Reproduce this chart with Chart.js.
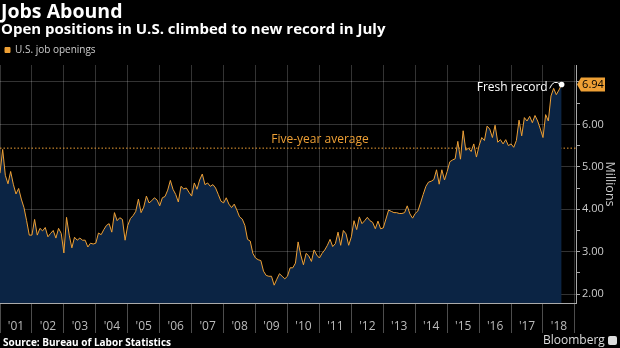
<!DOCTYPE html>
<html>
<head>
<meta charset="utf-8">
<script src="https://cdn.jsdelivr.net/npm/chart.js@4.4.1/dist/chart.umd.min.js"></script>
<style>
  html, body { margin: 0; padding: 0; background: #000; }
  #wrap { position: relative; width: 620px; height: 348px; overflow: hidden; font-family: "Open Sans", sans-serif; }
  #c { position: absolute; left: 0; top: 0; }
  .txt { position: absolute; white-space: nowrap; line-height: 1; }
  #title { left: 1px; top: 1px; font-size: 19.5px; font-weight: 700; color: #fff; }
  #subtitle { left: 1px; top: 21px; font-size: 15px; font-weight: 700; color: #fff; }
  #source { left: 3px; top: 337px; font-size: 10px; font-weight: 700; color: #fff; }
  #brand { left: 543px; top: 334px; font-size: 12px; color: #ddd; }
  #brand span { display: inline-block; width: 9px; height: 9px; margin-left: 3px; background: #ddd; border-radius: 2px; vertical-align: -1px; }
</style>
</head>
<body>
<div id="wrap">
  <canvas id="c" width="620" height="348"></canvas>
  <div class="txt" id="title">Jobs Abound</div>
  <div class="txt" id="subtitle">Open positions in U.S. climbed to new record in July</div>
  <div class="txt" id="source">Source: Bureau of Labor Statistics</div>
  <div class="txt" id="brand">Bloomberg<span></span></div>
</div>
<script>
// monthly U.S. job openings, millions, Dec 2000 .. Jul 2018
var openings = [
    4.85,
    5.41, 4.80, 4.60, 4.89, 4.59, 4.36, 4.49, 4.24, 4.04, 3.73, 3.39, 3.39,
    3.76, 3.39, 3.55, 3.49, 3.57, 3.35, 3.43, 3.50, 3.32, 3.55, 3.43, 2.97,
    3.81, 3.39, 3.09, 3.34, 3.27, 3.32, 3.27, 3.27, 3.11, 3.20, 3.18, 3.20,
    3.44, 3.40, 3.52, 3.62, 3.66, 3.46, 3.92, 3.73, 3.80, 3.76, 3.27, 3.62,
    3.78, 3.85, 3.95, 4.24, 3.92, 4.05, 4.31, 4.15, 4.20, 4.27, 4.22, 4.08,
    4.27, 4.30, 4.45, 4.68, 4.47, 4.35, 4.17, 4.54, 4.48, 4.50, 4.40, 4.31,
    4.62, 4.47, 4.69, 4.83, 4.58, 4.62, 4.54, 4.58, 4.50, 4.35, 4.19, 4.15,
    4.27, 4.12, 4.04, 4.12, 3.98, 3.82, 3.77, 3.62, 3.29, 3.25, 2.96, 2.85,
    2.81, 2.79, 2.54, 2.44, 2.42, 2.42, 2.21, 2.35, 2.48, 2.42, 2.36, 2.42,
    2.62, 2.62, 2.73, 3.23, 2.92, 2.69, 2.96, 2.90, 2.77, 3.04, 2.92, 2.85,
    2.96, 3.04, 3.15, 3.29, 3.12, 3.19, 3.46, 3.15, 3.50, 3.42, 3.15, 3.35,
    3.73, 3.52, 3.82, 3.66, 3.73, 3.81, 3.73, 3.69, 3.54, 3.72, 3.54, 3.56,
    3.77, 3.98, 3.95, 3.92, 3.92, 3.90, 3.90, 3.92, 4.08, 3.89, 3.79, 3.90,
    3.96, 4.15, 4.35, 4.54, 4.64, 4.66, 4.70, 4.93, 4.59, 4.93, 4.69, 4.89,
    5.12, 5.16, 5.19, 5.60, 5.18, 5.85, 5.39, 5.44, 5.36, 5.54, 5.23, 5.50,
    5.69, 5.62, 5.96, 5.89, 5.69, 5.98, 5.58, 5.64, 5.54, 5.64, 5.50, 5.54,
    5.46, 5.62, 6.10, 5.73, 6.16, 6.08, 6.19, 6.04, 6.21, 6.08, 5.89, 5.69,
    6.23, 6.08, 6.67, 6.85, 6.70, 6.81, 6.94
]
var fiveYearAvg = 5.44
// one tick per January, '01 .. '18
var yearLabels = ['01', '02', '03', '04', '05', '06', '07', '08', '09', '10',
    '11', '12', '13', '14', '15', '16', '17', '18']
var valueTicks = [2, 3, 4, 5, 6]

var orange = '#eea035'
var navy = 'rgb(11, 36, 68)'
var gridColor = 'rgba(255,255,255,0.2)'

function isHalf(v) {
    return Math.abs(v * 2 - Math.round(v * 2)) < 1e-6
}

// annotations: record dot + label, value tag, five-year average label
var notes = {
    id: 'notes',
    afterDraw: function (chart) {
        var ctx = chart.ctx
        var area = chart.chartArea
        var meta = chart.getDatasetMeta(0)
        var last = meta.data[meta.data.length - 1]
        var px = last.x, py = last.y
        var yAvg = chart.scales.y.getPixelForValue(fiveYearAvg)
        ctx.save()

        ctx.fillStyle = orange
        ctx.font = '12px "Open Sans"'
        ctx.textAlign = 'center'
        ctx.textBaseline = 'middle'
        ctx.fillText('Five-year average', 320, yAvg - 9)

        ctx.strokeStyle = '#fff'
        ctx.lineWidth = 1
        ctx.beginPath()
        ctx.moveTo(px - 12, py + 4)
        ctx.quadraticCurveTo(px - 8, py - 6, px - 1, py)
        ctx.stroke()
        ctx.fillStyle = '#fff'
        ctx.beginPath()
        ctx.arc(px, py, 2.8, 0, Math.PI * 2)
        ctx.fill()
        ctx.textAlign = 'right'
        ctx.fillText('Fresh record', px - 14, py + 3)

        var tx = area.right + 1
        ctx.fillStyle = orange
        ctx.beginPath()
        ctx.moveTo(tx, py)
        ctx.lineTo(tx + 4, py - 7)
        ctx.lineTo(tx + 28, py - 7)
        ctx.lineTo(tx + 28, py + 7)
        ctx.lineTo(tx + 4, py + 7)
        ctx.closePath()
        ctx.fill()
        ctx.fillStyle = '#000'
        ctx.font = '11px "Open Sans"'
        ctx.textAlign = 'center'
        ctx.fillText(openings[openings.length - 1].toFixed(2), tx + 16, py + 0.5)
        ctx.restore()
    }
}

var config = {
    type: 'line',
    data: {
        datasets: [
            {
                label: 'U.S. job openings',
                data: openings.map(function (v, i) { return { x: i, y: v } }),
                borderColor: orange,
                backgroundColor: orange,
                borderWidth: 1,
                pointRadius: 0,
                tension: 0,
                fill: { target: 'start', above: navy, below: navy },
            },
            {
                label: 'Five-year average',
                data: [{ x: 0, y: fiveYearAvg }, { x: 216.4, y: fiveYearAvg }],
                borderColor: orange,
                borderWidth: 1,
                borderDash: [1.5, 2],
                pointRadius: 0,
                fill: false,
            },
        ],
    },
    options: {
        responsive: false,
        animation: false,
        devicePixelRatio: 1,
        layout: { padding: { top: 40, left: 0, right: 0, bottom: 0 } },
        plugins: {
            tooltip: { enabled: false },
            legend: {
                position: 'top',
                align: 'start',
                labels: {
                    boxWidth: 5,
                    boxHeight: 5,
                    padding: 5,
                    color: '#ccc',
                    font: { family: 'Open Sans', size: 10 },
                    filter: function (item) { return item.datasetIndex === 0 },
                },
            },
        },
        scales: {
            x: {
                type: 'linear',
                min: 0,
                max: 216.4,
                afterBuildTicks: function (scale) {
                    scale.ticks = yearLabels.map(function (l, i) { return { value: i * 12 } })
                    scale.ticks.push({ value: 216 })
                },
                ticks: {
                    autoSkip: false,
                    maxRotation: 0,
                    labelOffset: 16,
                    padding: -14,
                    color: '#bbb',
                    font: { family: 'Open Sans', size: 12 },
                    callback: function (v) {
                        var l = yearLabels[v / 12]
                        return l ? "'" + l : ''
                    },
                },
                grid: { color: gridColor, tickLength: 30, tickColor: 'rgba(255,255,255,0.3)' },
                border: { color: '#aaa' },
                afterFit: function (scale) { scale.height = 45 },
            },
            y: {
                position: 'right',
                min: 1.79,
                max: 7.4,
                afterBuildTicks: function (scale) {
                    var t = []
                    for (var v = 2; v <= 7; v += 0.5) t.push({ value: v })
                    scale.ticks = t
                },
                ticks: {
                    padding: 2,
                    color: '#ccc',
                    font: { family: 'Open Sans', size: 11 },
                    callback: function (v) {
                        return valueTicks.indexOf(v) >= 0 ? v.toFixed(2) : ''
                    },
                },
                grid: {
                    color: function (c) { return Number.isInteger(c.tick.value) ? gridColor : 'transparent' },
                    tickLength: 4,
                    tickColor: function (c) { return isHalf(c.tick.value) ? '#aaa' : 'transparent' },
                },
                border: { color: '#aaa' },
                title: {
                    display: true,
                    text: 'Millions',
                    color: '#ccc',
                    font: { family: 'Open Sans', size: 12.5 },
                    padding: { top: 3, bottom: 0 },
                },
                afterFit: function (scale) { scale.width = 44 },
            },
        },
    },
    plugins: [notes],
}

var canvas = document.getElementById('c')
var chart = new Chart(canvas, config)
</script>
</body>
</html>
